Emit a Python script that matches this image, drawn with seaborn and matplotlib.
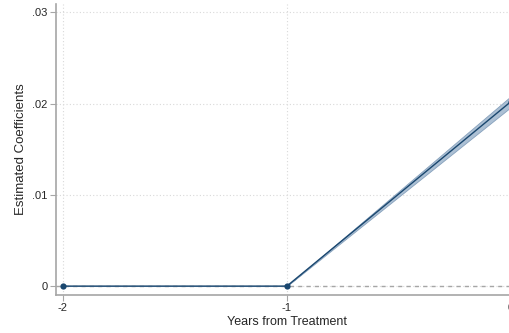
import pandas as pd
import matplotlib
matplotlib.use("Agg")
import matplotlib.pyplot as plt
import seaborn as sns

years = [-2, -1, 0]
coef = [0.0, 0.0, 0.0202]
ci_low = [0.0, 0.0, 0.0196]
ci_high = [0.0, 0.0, 0.0208]
yticks = [0, 0.01, 0.02, 0.03]
ytick_labels = ["0", ".01", ".02", ".03"]

df = pd.DataFrame({"year": years, "coef": coef, "lo": ci_low, "hi": ci_high})

sns.set_style("white")
plt.rcParams["font.family"] = ["Liberation Sans", "DejaVu Sans"]

fig = plt.figure(figsize=(5.1, 3.33), dpi=100)
ax = fig.add_axes([0.1098, 0.114, 0.905, 0.874])

navy = "#1a476f"
# grid
for t in yticks:
    ax.axhline(t, color="#d9d9d9", lw=0.8, ls=(0, (1, 2)), zorder=0)
for t in years:
    ax.axvline(t, color="#d9d9d9", lw=0.8, ls=(0, (1, 2)), zorder=0)

ax.axhline(0, color="#a6a6a6", lw=1.0, ls=(0, (3, 3)), zorder=1)
ax.axvline(0, color="#a6a6a6", lw=1.0, ls=(0, (3, 3)), zorder=1)

ax.fill_between(df["year"], df["lo"], df["hi"], color="#a3b9d0", alpha=0.9,
                edgecolor="#7f9bb8", lw=0.6, zorder=2)
sns.lineplot(data=df, x="year", y="coef", ax=ax, color=navy, lw=1.0,
             marker="o", markersize=4.5, markeredgewidth=0, zorder=3)

ax.set_xlim(-2.031, 0.03)
ax.set_ylim(-0.00098, 0.0309)
ax.set_xticks(years)
ax.set_xticklabels([str(y) for y in years])
ax.set_yticks(yticks)
ax.set_yticklabels(ytick_labels)
ax.set_xlabel("Years from Treatment", fontsize=9, labelpad=2)
ax.set_ylabel("Estimated Coefficients", fontsize=9.5, labelpad=4)
ax.tick_params(axis="both", labelsize=8, length=4, width=0.8, color="#a6a6a6",
               direction="out", bottom=True, left=True, pad=2)

for s in ["top", "right"]:
    ax.spines[s].set_visible(False)
for s in ["left", "bottom"]:
    ax.spines[s].set_color("#a6a6a6")
    ax.spines[s].set_linewidth(1.2)

fig.savefig("out.png", dpi=100)
